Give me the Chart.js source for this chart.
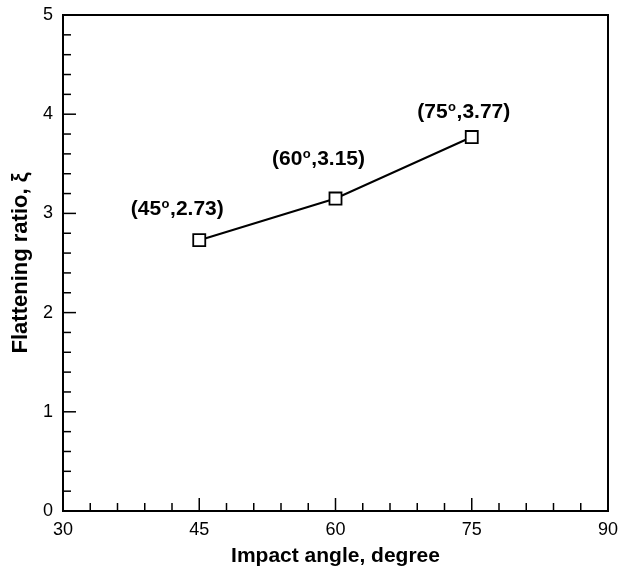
<!DOCTYPE html>
<html><head><meta charset="utf-8">
<script src="https://cdn.jsdelivr.net/npm/chart.js@4/dist/chart.umd.min.js"></script>
<style>html,body{margin:0;padding:0;background:#fff;}#wrap{width:623px;height:572px;}</style>
</head><body><div id="wrap"><canvas id="c" width="623" height="572"></canvas></div>
<script>
const angles = [45, 60, 75];
const ratios = [2.73, 3.15, 3.77];
const labelPre = ['(45', '(60', '(75'];
const labelPost = [',2.73)', ',3.15)', ',3.77)'];
const labelOffsets = [[-22, -31], [-17, -39], [-8, -25]];
const xTicks = [30, 45, 60, 75, 90];
const yTicks = [0, 1, 2, 3, 4, 5];
const FONT = '"Liberation Sans", Arial, Helvetica, sans-serif';

const deco = {
  id: 'deco',
  afterDraw(chart) {
    const ctx = chart.ctx, a = chart.chartArea;
    const xs = chart.scales.x, ys = chart.scales.y;
    ctx.save();
    ctx.strokeStyle = '#000';
    ctx.lineWidth = 1.5;
    for (let v = 30; v <= 90.001; v += 3) {
      const px = xs.getPixelForValue(v);
      const major = Math.abs(v % 15) < 0.001;
      const len = major ? 13 : 8;
      ctx.beginPath(); ctx.moveTo(px, a.bottom); ctx.lineTo(px, a.bottom - len); ctx.stroke();
    }
    for (let i = 0; i <= 25; i++) {
      const v = i * 0.2;
      const py = ys.getPixelForValue(v);
      const major = i % 5 === 0;
      const len = major ? 13 : 8;
      ctx.beginPath(); ctx.moveTo(a.left, py); ctx.lineTo(a.left + len, py); ctx.stroke();
    }
    ctx.lineWidth = 2;
    ctx.strokeRect(a.left, a.top, a.right - a.left, a.bottom - a.top);
    ctx.fillStyle = '#000';
    ctx.textBaseline = 'middle';
    const mainF = 'bold 21px ' + FONT, supF = 'bold 13px ' + FONT;
    for (let i = 0; i < angles.length; i++) {
      const px = xs.getPixelForValue(angles[i]) + labelOffsets[i][0];
      const py = ys.getPixelForValue(ratios[i]) + labelOffsets[i][1];
      ctx.font = mainF; const w1 = ctx.measureText(labelPre[i]).width; const w3 = ctx.measureText(labelPost[i]).width;
      ctx.font = supF; const w2 = ctx.measureText('o').width + 1;
      let x = px - (w1 + w2 + w3) / 2;
      ctx.textAlign = 'left';
      ctx.font = mainF; ctx.fillText(labelPre[i], x, py); x += w1;
      ctx.font = supF; ctx.fillText('o', x + 0.5, py - 5); x += w2;
      ctx.font = mainF; ctx.fillText(labelPost[i], x, py);
    }
    ctx.restore();
  }
};

new Chart(document.getElementById('c'), {
  type: 'scatter',
  data: {
    datasets: [{
      data: angles.map((a, i) => ({x: a, y: ratios[i]})),
      showLine: true,
      borderColor: '#000',
      borderWidth: 2,
      pointStyle: 'rect',
      pointRadius: 8.5,
      pointBorderWidth: 1.8,
      pointBackgroundColor: '#fff',
      pointBorderColor: '#000'
    }]
  },
  options: {
    responsive: false,
    animation: false,
    events: [],
    layout: { padding: { top: 15, right: 15, left: 0, bottom: 0 } },
    plugins: { legend: { display: false }, tooltip: { enabled: false } },
    scales: {
      x: {
        type: 'linear', min: 30, max: 90,
        afterFit(s) { s.height = 61; s.paddingLeft = 0; s.paddingRight = 0; },
        afterBuildTicks(s) { s.ticks = xTicks.map(v => ({value: v})); },
        grid: { display: false, drawTicks: false },
        border: { display: false },
        ticks: { padding: 8, color: '#000', font: { family: FONT, size: 18 } },
        title: { display: true, text: 'Impact angle, degree', color: '#000',
                 font: { family: FONT, size: 21, weight: 'bold' }, padding: { top: 0, bottom: 3 } }
      },
      y: {
        type: 'linear', min: 0, max: 5,
        afterFit(s) { s.width = 63; s.paddingTop = 0; s.paddingBottom = 0; },
        afterBuildTicks(s) { s.ticks = yTicks.map(v => ({value: v})); },
        grid: { display: false, drawTicks: false },
        border: { display: false },
        ticks: { padding: 10, color: '#000', font: { family: FONT, size: 18 } },
        title: { display: true, text: 'Flattening ratio, ξ', color: '#000',
                 font: { family: FONT, size: 22, weight: 'bold' }, padding: { top: 8, bottom: 0 } }
      }
    }
  },
  plugins: [deco]
});
</script></body></html>
